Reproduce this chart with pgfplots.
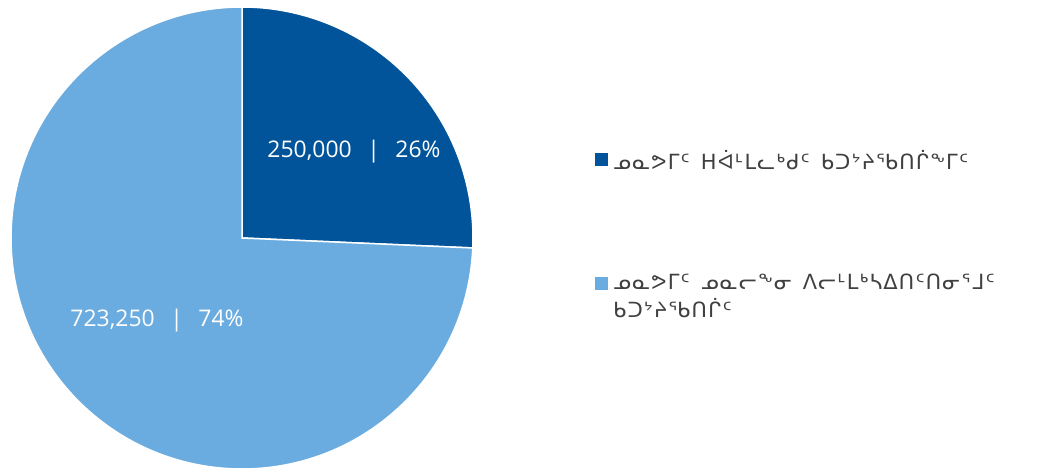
\documentclass[border=0pt]{standalone}
\usepackage{pgfplots}
\pgfplotsset{compat=1.18}
\usepackage{fontspec}
\setmainfont{Open Sans}
\newfontfamily\syl[LetterSpace=6,WordSpace=1.4]{DejaVu Sans}
\definecolor{darkb}{HTML}{02549A}
\definecolor{lightb}{HTML}{6AACE0}
\definecolor{legtext}{HTML}{404040}
% data
\def\valA{250000}
\def\valB{723250}
\edef\angA{\fpeval{90-360*\valA/(\valA+\valB)}}
\newcommand\sep{\hspace{0.68em}|\hspace{0.68em}}
\begin{document}
\begin{tikzpicture}
\begin{axis}[
  width=1045bp, height=475bp, scale only axis,
  xmin=0, xmax=1045, ymin=0, ymax=475,
  hide axis, clip=false,
]
\path (axis cs:0,0) rectangle (axis cs:1045,475);
\fill[darkb, draw=white, line width=1.5bp] (axis cs:242,237) -- (axis cs:242,468) arc[start angle=90, end angle=\angA, radius=231bp] -- cycle;
\fill[lightb, draw=white, line width=1.5bp] (axis cs:242,237) -- ++(\angA:231bp) arc[start angle=\angA, end angle=-270, radius=231bp] -- cycle;
\node[text=white, font=\fontsize{23}{27}\selectfont] at (axis cs:354,323) {250,000\sep26\%};
\node[text=white, font=\fontsize{23}{27}\selectfont] at (axis cs:157,154) {723,250\sep74\%};
% legend
\fill[darkb] (axis cs:595,309) rectangle (axis cs:608,322);
\node[anchor=west, text=legtext, font=\syl\fontsize{21}{28}\selectfont, inner sep=0pt] at (axis cs:613,315) {ᓄᓇᕗᒥᑦ ᕼᐋᒻᒪᓚᒃᑯᑦ ᑲᑐᔾᔨᖃᑎᒌᖕᒥᑦ};
\fill[lightb] (axis cs:595,185) rectangle (axis cs:608,198);
\node[anchor=north west, text=legtext, font=\syl\fontsize{21}{28}\selectfont, inner sep=0pt, align=left] at (axis cs:613,201) {ᓄᓇᕗᒥᑦ ᓄᓇᓕᖕᓂ ᐱᓕᒻᒪᒃᓴᐃᑎᑦᑎᓂᕐᒧᑦ\\ᑲᑐᔾᔨᖃᑎᒌᑦ};
\end{axis}
\end{tikzpicture}
\end{document}
